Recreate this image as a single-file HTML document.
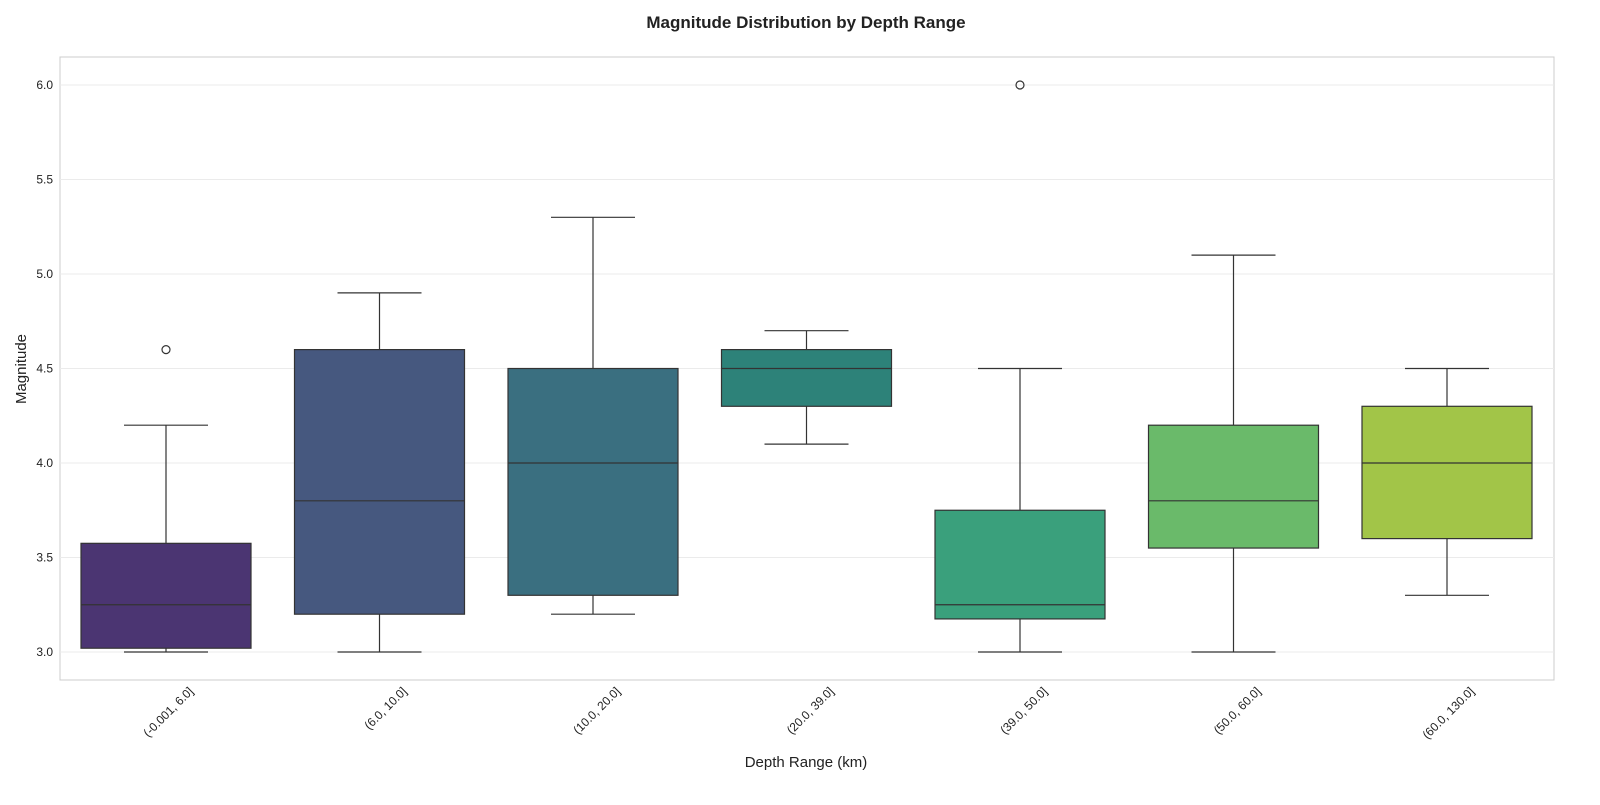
<!DOCTYPE html>
<html><head><meta charset="utf-8"><style>
body{margin:0;background:#fff;font-family:"Liberation Sans",Arial,sans-serif}
</style></head><body>
<svg id="chart" width="1600" height="800" xmlns="http://www.w3.org/2000/svg">
<text x="806" y="28" text-anchor="middle" font-size="17" font-weight="bold" fill="#222">Magnitude Distribution by Depth Range</text>
<rect x="60" y="57" width="1494" height="623" fill="#fff" stroke="#ccc"/>
<g id="grid"></g><g id="boxes"></g><g id="axes"></g>
<text x="806" y="767" text-anchor="middle" font-size="15" fill="#222">Depth Range (km)</text>
<text transform="translate(26,369) rotate(-90)" text-anchor="middle" font-size="15" fill="#222">Magnitude</text>
</svg>
<script>
const categories=["(-0.001, 6.0]","(6.0, 10.0]","(10.0, 20.0]","(20.0, 39.0]","(39.0, 50.0]","(50.0, 60.0]","(60.0, 130.0]"];
const whiskLow=[3.0,3.0,3.2,4.1,3.0,3.0,3.3];
const q1=[3.02,3.2,3.3,4.3,3.175,3.55,3.6];
const medians=[3.25,3.8,4.0,4.5,3.25,3.8,4.0];
const q3=[3.575,4.6,4.5,4.6,3.75,4.2,4.3];
const whiskHigh=[4.2,4.9,5.3,4.7,4.5,5.1,4.5];
const outliers=[[4.6],[],[],[],[6.0],[],[]];
const colors=["#4b3572","#46587f","#3a6f80","#2d8279","#3aa07c","#6aba6a","#a2c548"];
const yTicks=[3.0,3.5,4.0,4.5,5.0,5.5,6.0];
const NS="http://www.w3.org/2000/svg";
const y=v=>652-(v-3)*189;
const x=i=>166+i*213.5;
function mk(tag,attrs,parent){const e=document.createElementNS(NS,tag);for(const k in attrs)e.setAttribute(k,attrs[k]);parent.appendChild(e);return e;}
const grid=document.getElementById('grid'),boxes=document.getElementById('boxes'),axes=document.getElementById('axes');
yTicks.forEach(t=>{
 const l=mk('line',{x1:60,x2:1554,y1:y(t),y2:y(t),stroke:'#ebebeb'},grid);
 
 
 const tx=mk('text',{x:53,y:y(t)+4,'text-anchor':'end','font-size':12,fill:'#222'},axes);
 tx.textContent=t.toFixed(1);
 
 
});
categories.forEach((c,i)=>{
 const cx=x(i),hw=85,g=mk('g',{},boxes);
 
 
 mk('line',{x1:cx,x2:cx,y1:y(whiskLow[i]),y2:y(q1[i]),stroke:'#333','stroke-width':1.2},g);
 mk('line',{x1:cx,x2:cx,y1:y(q3[i]),y2:y(whiskHigh[i]),stroke:'#333','stroke-width':1.2},g);
 mk('line',{x1:cx-42,x2:cx+42,y1:y(whiskLow[i]),y2:y(whiskLow[i]),stroke:'#333','stroke-width':1.2},g);
 mk('line',{x1:cx-42,x2:cx+42,y1:y(whiskHigh[i]),y2:y(whiskHigh[i]),stroke:'#333','stroke-width':1.2},g);
 mk('rect',{x:cx-hw,y:y(q3[i]),width:hw*2,height:y(q1[i])-y(q3[i]),fill:colors[i],stroke:'#333','stroke-width':1.2},g);
 mk('line',{x1:cx-hw,x2:cx+hw,y1:y(medians[i]),y2:y(medians[i]),stroke:'#333','stroke-width':1.2},g);
 outliers[i].forEach(o=>{const p=mk('circle',{cx:cx,cy:y(o),r:4,fill:'none',stroke:'#333','stroke-width':1.2},g);
  
  });
 const t=mk('text',{transform:`translate(${cx+28},692) rotate(-45)`,'text-anchor':'end','font-size':12,fill:'#222'},axes);
 t.textContent=c;
 
 
});
</script>
</body></html>
